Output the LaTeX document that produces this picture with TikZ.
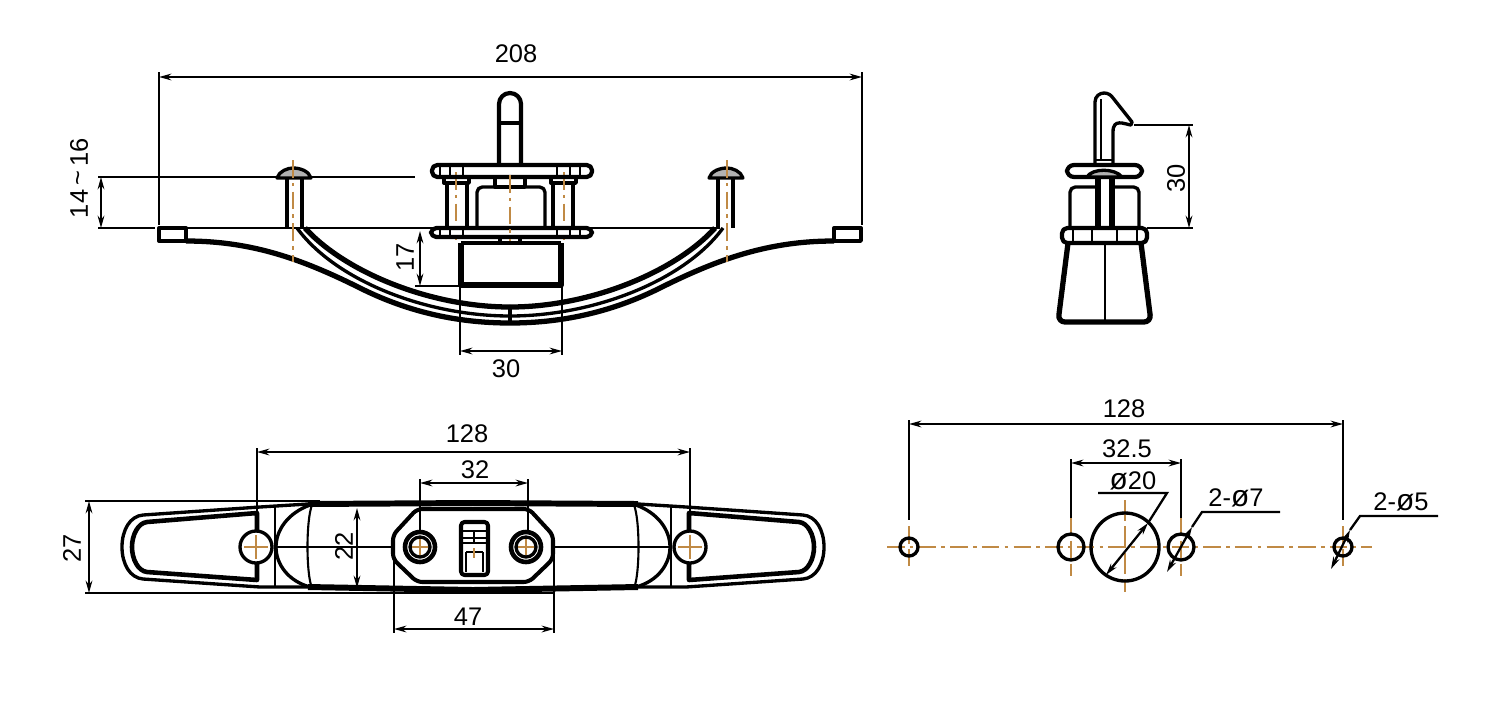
\documentclass[tikz,border=0pt]{standalone}
\usepackage{fontspec}
\setmainfont{Liberation Sans}
\usetikzlibrary{arrows.meta}
\definecolor{axisorange}{HTML}{C08A45}
\newcommand{\diasign}{{\fontsize{17}{17}\selectfont ø}}
\tikzset{
    part/.style={line width=1.9pt, black, line join=round},
    heavy/.style={line width=3pt, black, line join=round},
    fine/.style={line width=1.2pt, black},
    extline/.style={line width=1.2pt, black},
    tipends/.style={{Stealth[length=7pt,width=3.8pt]}-{Stealth[length=7pt,width=3.8pt]}},
    dimline/.style={line width=1.2pt, black, tipends},
    leader/.style={line width=1.3pt, black},
    axis/.style={line width=1.2pt, axisorange, dash pattern=on 10pt off 3pt on 2pt off 3pt},
    cross/.style={line width=1.2pt, axisorange},
    dimlabel/.style={font=\fontsize{14.5}{16}\selectfont, inner sep=0pt},
    vlabel/.style={dimlabel, rotate=90}
}
\begin{document}
\begin{tikzpicture}[x=0.02cm, y=-0.02cm]
    \useasboundingbox (0,0) rectangle (1500,724);

    % Front view
    \draw[extline] (159,72) -- (159,225) (862,72) -- (862,225);
    \draw[dimline] (159,77) -- (862,77);
    \node[dimlabel] (lenTotal) at (516,54) {208};
    \draw[extline] (98,177) -- (415,177) (98,228) -- (155,228) (159,228) -- (445,228) (575,228) -- (720,228);
    \draw[dimline] (101,177) -- (101,228);
    \node[vlabel] (lenPull) at (79,178) {14\,\raisebox{1pt}{\textasciitilde}\,16};
    \foreach \side in {1,-1} {
        \begin{scope}[shift={(510,0)}, xscale=\side]
            \draw[part] (-351,228) rectangle (-324,241);
            \draw[heavy] (-324,241) .. controls (-260,241) and (-210,258) .. (-150,288) .. controls (-100,313) and (-50,323) .. (0,323);
            \draw[heavy] (-205,228) .. controls (-165,272) and (-80,307) .. (0,307);
            \draw[part] (-213,228) .. controls (-175,280) and (-85,316) .. (0,316);
            \draw[fine] (-195,228) -- (-205,228);
            % Rivet
            \draw[part] (-223,178) -- (-223,228) (-208,178) -- (-208,228);
            \draw[part, fill=black!30] (-233,178) .. controls (-231,171) and (-222,168) .. (-217,168) .. controls (-210,168) and (-201,171) .. (-199,178) -- cycle;
            \draw[axis] (-217,160) -- (-217,262);
            % Post
            \draw[part] (-63,183) -- (-63,228) (-43,183) -- (-43,228);
            \draw[part] (-66,177) rectangle (-41,183);
            \draw[axis] (-54,172) -- (-54,240);
            \draw[fine] (-70,165) -- (-70,177) (-60,165) -- (-60,177) (-47,165) -- (-47,177);
            \draw[fine] (-70,228) -- (-70,237) (-60,228) -- (-60,237) (-47,228) -- (-47,237);
        \end{scope}
    }
    \draw[part] (510,307) -- (510,323);
    % Handle on the bracket
    \draw[heavy, line width=2.4pt] (499,165) -- (499,104) arc[start angle=180, end angle=360, radius=11] -- (521,165);
    \draw[part] (499,123) -- (521,123);
    \draw[heavy, line width=2.4pt, rounded corners=3pt] (432,165) rectangle (592,177);
    \draw[heavy, line width=2.4pt, rounded corners=3pt] (431,228) rectangle (592,237);
    \draw[part, rounded corners=3pt] (477,228) -- (477,187) -- (545,187) -- (545,228);
    \draw[part] (495,177) rectangle (525,187);
    \draw[axis] (510,175) -- (510,242);
    \draw[part] (500,237) rectangle (520,243);
    % Knob
    \draw[heavy] (461,243) -- (461,285) -- (561,285) -- (561,243);
    \draw[part] (461,243) -- (561,243);
    \draw[extline] (460,285) -- (460,355) (562,285) -- (562,355);
    \draw[dimline] (460,351) -- (562,351);
    \node[dimlabel] (lenKnob) at (506,369) {30};
    \draw[extline] (415,286) -- (460,286);
    \draw[dimline] (420,231) -- (420,286);
    \draw[extline] (417,228) -- (431,228);
    \node[vlabel] (lenDrop) at (405,257) {17};

    % Side view
    \draw[part] (1095,165) -- (1095,102) .. controls (1095,96) and (1100,93) .. (1104,93) .. controls (1108,93) and (1111,95) .. (1113,98) -- (1132,122) -- (1131,125) .. controls (1124,124) and (1113,118) .. (1113,132) -- (1113,165);
    \draw[fine] (1101,99) -- (1101,160) (1095,160) -- (1113,160);
    \draw[heavy, line width=2.4pt, rounded corners=4pt] (1067,165) rectangle (1142,177);
    \draw[part, fill=black!30] (1087,177) .. controls (1092,168) and (1115,168) .. (1122,177) -- cycle;
    \draw[heavy] (1098,177) -- (1098,228) (1112,177) -- (1112,228);
    \draw[part, rounded corners=3pt] (1070,228) -- (1070,187) -- (1098,187) (1112,187) -- (1139,187) -- (1139,228);
    \draw[heavy, line width=2.4pt, rounded corners=3pt] (1062,228) rectangle (1147,243);
    \draw[fine] (1073,228) -- (1073,243) (1092,228) -- (1092,243) (1117,228) -- (1117,243) (1137,228) -- (1137,243);
    \draw[heavy, rounded corners=4pt] (1068,243) -- (1058,322) -- (1151,322) -- (1141,243);
    \draw[fine] (1105,243) -- (1105,322);
    \draw[extline] (1134,125) -- (1193,125) (1147,228) -- (1193,228);
    \draw[dimline] (1189,125) -- (1189,228);
    \node[vlabel] (lenHook) at (1176,178) {30};

    % Top view
    \draw[extline] (85,501) -- (320,501) (85,593) -- (555,593);
    \draw[dimline] (89,501) -- (89,593);
    \node[vlabel] (lenWidth) at (72,548) {27};
    \foreach \side in {1,-1} {
        \begin{scope}[shift={(473,0)}, xscale=\side]
            \draw[heavy, line width=3.4pt] (-165,504) -- (0,503);
            \draw[heavy, line width=3.4pt] (-165,587) -- (0,590);
            \draw[part] (-165,504) -- (-213,507) -- (-330,515) .. controls (-343,516) and (-351,530) .. (-351,547) .. controls (-351,564) and (-343,578) .. (-330,579) -- (-213,587) -- (-165,587);
            \draw[heavy, line width=2.6pt] (-216,531) -- (-216,513) -- (-326,522) .. controls (-335,523) and (-341,535) .. (-341,547) .. controls (-341,559) and (-335,571) .. (-326,572) -- (-216,580) -- (-216,563);
            \draw[part] (-217,547) circle[radius=16];
            \draw[cross] (-229,547) -- (-205,547) (-217,535) -- (-217,559);
            \draw[fine] (-198,507) -- (-198,586);
            \draw[part] (-163,505) .. controls (-185,513) and (-197,530) .. (-197,547) .. controls (-197,564) and (-185,581) .. (-163,587);
            \draw[fine] (-161,505) .. controls (-167,520) and (-167,574) .. (-161,588);
            \draw[fine] (-197,547) -- (-80,547);
            % Plate end and screw
            \draw[heavy, line width=2.3pt, rounded corners=3pt] (0,509) -- (-56,509) -- (-80,535) -- (-80,559) -- (-56,582) -- (0,582);
            \draw[heavy, line width=2.6pt] (-53,547) circle[radius=15];
            \draw[part] (-53,547) circle[radius=10];
            \draw[cross] (-61,547) -- (-45,547) (-53,539) -- (-53,555);
        \end{scope}
    }
    \draw[heavy, line width=2.3pt, rounded corners=2pt] (461,522) rectangle (488,575);
    \draw[fine] (461,531) -- (488,531) (461,538) -- (488,538) (461,543) -- (488,543);
    \draw[fine] (466,552) -- (466,572) (483,552) -- (483,572) (466,552) -- (483,552);
    \draw[fine] (474,531) -- (474,543);
    \draw[cross] (474,548) -- (474,558);
    \draw[extline] (257,448) -- (257,515) (690,448) -- (690,515);
    \draw[dimline] (257,452) -- (690,452);
    \node[dimlabel] (lenHoles) at (467,434) {128};
    \draw[extline] (420,479) -- (420,532) (528,479) -- (528,532);
    \draw[dimline] (420,483) -- (528,483);
    \node[dimlabel] (lenScrews) at (475,470) {32};
    \draw[dimline] (357,508) -- (357,588);
    \node[vlabel] (lenInner) at (344,546) {22};
    \draw[extline] (394,550) -- (394,633) (554,550) -- (554,633);
    \draw[dimline] (394,629) -- (554,629);
    \node[dimlabel] (lenPlate) at (468,617) {47};

    % Drilling plan
    \draw[axis] (887,547) -- (1372,547);
    \foreach \cx/\rad/\tick in {909/9/21, 1071/13/29, 1181/13/29, 1343/9/21} {
        \draw[axis, dash pattern=on 10pt off 3pt] (\cx,547-\tick) -- (\cx,547+\tick);
        \draw[part] (\cx,547) circle[radius=\rad];
    }
    \draw[axis, dash pattern=on 12pt off 3pt] (1125,500) -- (1125,592);
    \draw[part] (1125,547) circle[radius=34];
    \draw[extline] (909,420) -- (909,520) (1343,420) -- (1343,520);
    \draw[dimline] (909,424) -- (1343,424);
    \node[dimlabel] (lenPlan) at (1124,409) {128};
    \draw[extline] (1071,459) -- (1071,518) (1181,459) -- (1181,518);
    \draw[dimline] (1071,463) -- (1181,463);
    \node[dimlabel] (lenHub) at (1127,449) {32.5};
    % Leaders
    \draw[leader] (1098,493) -- (1167,493) -- (1148,523);
    \draw[leader, tipends] (1148,523) -- (1106,575);
    \node[dimlabel] (diaHub) at (1133,481) {\diasign 20};
    \draw[leader] (1280,512) -- (1202,512) -- (1192,527);
    \draw[leader, tipends] (1192,527) -- (1167,572);
    \node[dimlabel] (diaLarge) at (1236,498) {2-\diasign 7};
    \draw[leader] (1438,516) -- (1360,516) -- (1350,530);
    \draw[leader, tipends] (1350,530) -- (1331,569);
    \node[dimlabel] (diaSmall) at (1401,502) {2-\diasign 5};
\end{tikzpicture}
\end{document}
